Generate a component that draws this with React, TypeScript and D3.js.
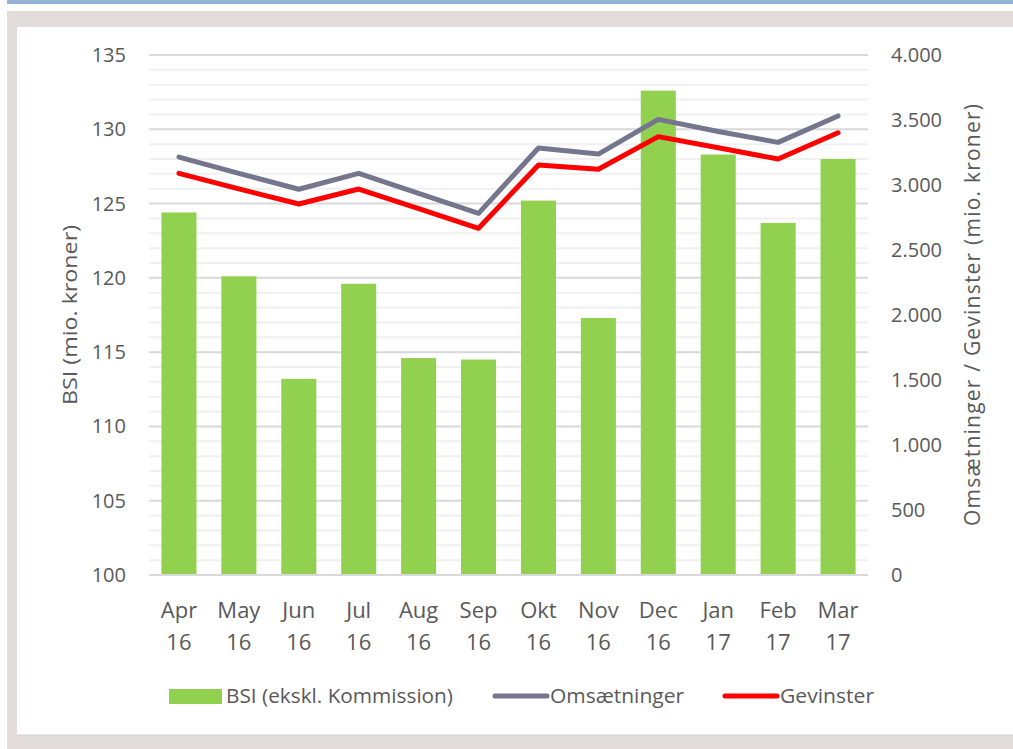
import React from "react";
import * as d3 from "d3";

const months = ["Apr", "May", "Jun", "Jul", "Aug", "Sep", "Okt", "Nov", "Dec", "Jan", "Feb", "Mar"];
const years = ["16", "16", "16", "16", "16", "16", "16", "16", "16", "17", "17", "17"];
const bsi = [124.4, 120.1, 113.2, 119.6, 114.6, 114.5, 125.2, 117.3, 132.6, 128.3, 123.7, 128.0];
const omsaetninger = [3215, 3090, 2967, 3090, 2935, 2782, 3285, 3238, 3505, 3412, 3328, 3531];
const gevinster = [3090, 2970, 2854, 2969, 2818, 2667, 3154, 3121, 3372, 3286, 3200, 3402];
const leftTicks = [100, 105, 110, 115, 120, 125, 130, 135];
const rightTicks = [0, 500, 1000, 1500, 2000, 2500, 3000, 3500, 4000];
const legendLabels = ["BSI (ekskl. Kommission)", "Omsætninger", "Gevinster"];

const FONT = "'Open Sans', sans-serif";
const TEXT = "#595959";
const GREEN = "#92d050";
const GREY = "#75758d";
const RED = "#ff0000";

export default function App() {
  const W = 1013, H = 749;
  const x0 = 149, x1 = 868, yTop = 55, yBot = 575;
  const x = d3.scaleBand<string>().domain(months).range([x0, x1]).paddingInner(0.415).paddingOuter(0.2075);
  const yL = d3.scaleLinear().domain([100, 135]).range([yBot, yTop]);
  const yR = d3.scaleLinear().domain([0, 4000]).range([yBot, yTop]);
  const cx = (i: number) => (x(months[i]) as number) + x.bandwidth() / 2;
  const omsPath = d3.line<number>().x((_, i) => cx(i)).y((d) => yR(d))(omsaetninger) as string;
  const gevPath = d3.line<number>().x((_, i) => cx(i)).y((d) => yR(d))(gevinster) as string;
  const minor = d3.range(101, 135).filter((v) => v % 5 !== 0);
  const fmt = (v: number) => d3.format(",")(v).replace(/,/g, ".");
  const midY = (yTop + yBot) / 2;

  return (
    <svg width={W} height={H} style={{ position: "absolute", left: 0, top: 0 }} fontFamily={FONT}>
      <rect x={0} y={0} width={W} height={H} fill="#ffffff" />
      <rect x={7} y={0} width={W - 7} height={4} fill="#95b3d7" />
      <rect x={7} y={11} width={W - 7} height={H - 11} fill="#e2dcda" />
      <rect x={17} y={27} width={W - 17} height={708} fill="#ffffff" />
      <line x1={17} x2={W} y1={735.5} y2={735.5} stroke="#d6d6d6" strokeWidth={2} />

      {minor.map((v) => (
        <line key={"m" + v} x1={x0} x2={x1} y1={yL(v)} y2={yL(v)} stroke="#f0f0f0" strokeWidth={2} />
      ))}
      {leftTicks.map((v) => (
        <line key={"g" + v} x1={x0} x2={x1} y1={yL(v)} y2={yL(v)} stroke="#d9d9d9" strokeWidth={2} />
      ))}

      {bsi.map((v, i) => (
        <rect key={"b" + i} x={x(months[i])} y={yL(v)} width={x.bandwidth()} height={yL(100) - yL(v)} fill={GREEN} />
      ))}
      <line x1={x0} x2={x1} y1={yBot} y2={yBot} stroke="#d9d9d9" strokeWidth={2} />

      <path d={omsPath} fill="none" stroke={GREY} strokeWidth={5} strokeLinejoin="round" strokeLinecap="round" />
      <path d={gevPath} fill="none" stroke={RED} strokeWidth={5} strokeLinejoin="round" strokeLinecap="round" />

      {leftTicks.map((v) => (
        <text key={"lt" + v} x={126} y={yL(v)} dy="0.35em" textAnchor="end" fontSize={20} fill={TEXT}>{v}</text>
      ))}
      {rightTicks.map((v) => (
        <text key={"rt" + v} x={891} y={yR(v)} dy="0.35em" textAnchor="start" fontSize={20} fill={TEXT}>{fmt(v)}</text>
      ))}
      {months.map((m, i) => (
        <text key={"x" + i} x={cx(i)} textAnchor="middle" fontSize={22} fill={TEXT}>
          <tspan x={cx(i)} y={618}>{m}</tspan>
          <tspan x={cx(i)} y={650}>{years[i]}</tspan>
        </text>
      ))}

      <text transform={`translate(77,${midY}) rotate(-90)`} textAnchor="middle" fontSize={20} fill={TEXT}
        textLength={180} lengthAdjust="spacingAndGlyphs">BSI (mio. kroner)</text>
      <text transform={`translate(980,${midY}) rotate(-90)`} textAnchor="middle" fontSize={21} fill={TEXT}
        textLength={422} lengthAdjust="spacing">Omsætninger / Gevinster (mio. kroner)</text>

      <rect x={169} y={689} width={53} height={15} fill={GREEN} />
      <text x={226} y={703} fontSize={20} fill={TEXT} textLength={227} lengthAdjust="spacingAndGlyphs">{legendLabels[0]}</text>
      <line x1={495} x2={547} y1={696} y2={696} stroke={GREY} strokeWidth={5} strokeLinecap="round" />
      <text x={550} y={703} fontSize={20} fill={TEXT} textLength={134} lengthAdjust="spacingAndGlyphs">{legendLabels[1]}</text>
      <line x1={725} x2={777} y1={696} y2={696} stroke={RED} strokeWidth={5} strokeLinecap="round" />
      <text x={780} y={703} fontSize={20} fill={TEXT} textLength={94} lengthAdjust="spacingAndGlyphs">{legendLabels[2]}</text>
    </svg>
  );
}
